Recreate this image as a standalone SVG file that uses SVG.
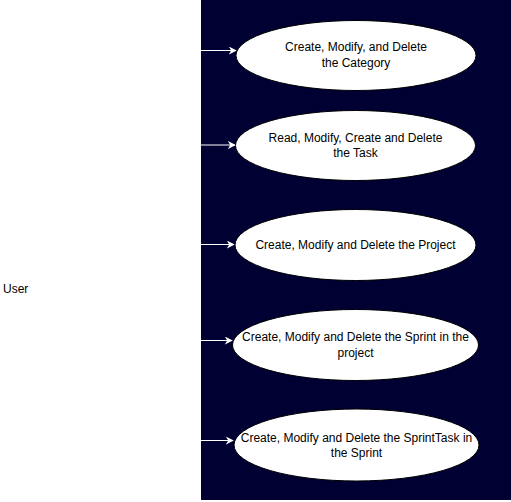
<svg xmlns="http://www.w3.org/2000/svg" width="511" height="502" viewBox="0 0 511 502">
<style>
.uc ellipse{fill:#ffffff;stroke:#000000;stroke-width:1}
text{font-family:"Liberation Sans",Arial,sans-serif;font-size:12px;fill:#000000;text-anchor:middle}
.conn path{stroke:#ffffff;stroke-width:1;fill:none}
</style>
<defs>
<marker id="ah" viewBox="0 0 10 10" refX="9" refY="5" markerWidth="8" markerHeight="8" markerUnits="userSpaceOnUse" orient="auto">
<path d="M0,0 L10,5 L0,10 L3,5 Z" fill="#ffffff"/>
</marker>
</defs>
<rect x="0" y="0" width="511" height="502" fill="#ffffff"/>
<rect id="boundary" x="201" y="0" width="310" height="500" fill="#000033"/>
<g id="user"><text x="3" y="293" style="text-anchor:start">User</text></g>
<g class="conn" id="connectors">
<path d="M201,50.5 H236" marker-end="url(#ah)"/>
<path d="M201,145 H235" marker-end="url(#ah)"/>
<path d="M201,244.5 H234" marker-end="url(#ah)"/>
<path d="M201,340.5 H232" marker-end="url(#ah)"/>
<path d="M201,440.5 H233" marker-end="url(#ah)"/>
</g>
<g class="uc" id="uc1"><ellipse cx="356" cy="55.5" rx="120" ry="35"/><text x="356" y="51">Create, Modify, and Delete</text><text x="356" y="67">the Category</text></g>
<g class="uc" id="uc2"><ellipse cx="355.5" cy="145.5" rx="120" ry="35"/><text x="355.5" y="142">Read, Modify, Create and Delete</text><text x="355.5" y="157">the Task</text></g>
<g class="uc" id="uc3"><ellipse cx="355.5" cy="245" rx="120.5" ry="35.5"/><text x="355.5" y="249">Create, Modify and Delete the Project</text></g>
<g class="uc" id="uc4"><ellipse cx="355.5" cy="345" rx="123" ry="35.5"/><text x="355.5" y="341">Create, Modify and Delete the Sprint in the</text><text x="355.5" y="357">project</text></g>
<g class="uc" id="uc5"><ellipse cx="356.5" cy="445" rx="122.5" ry="36"/><text x="356.5" y="442">Create, Modify and Delete the SprintTask in</text><text x="356.5" y="457">the Sprint</text></g>
</svg>
